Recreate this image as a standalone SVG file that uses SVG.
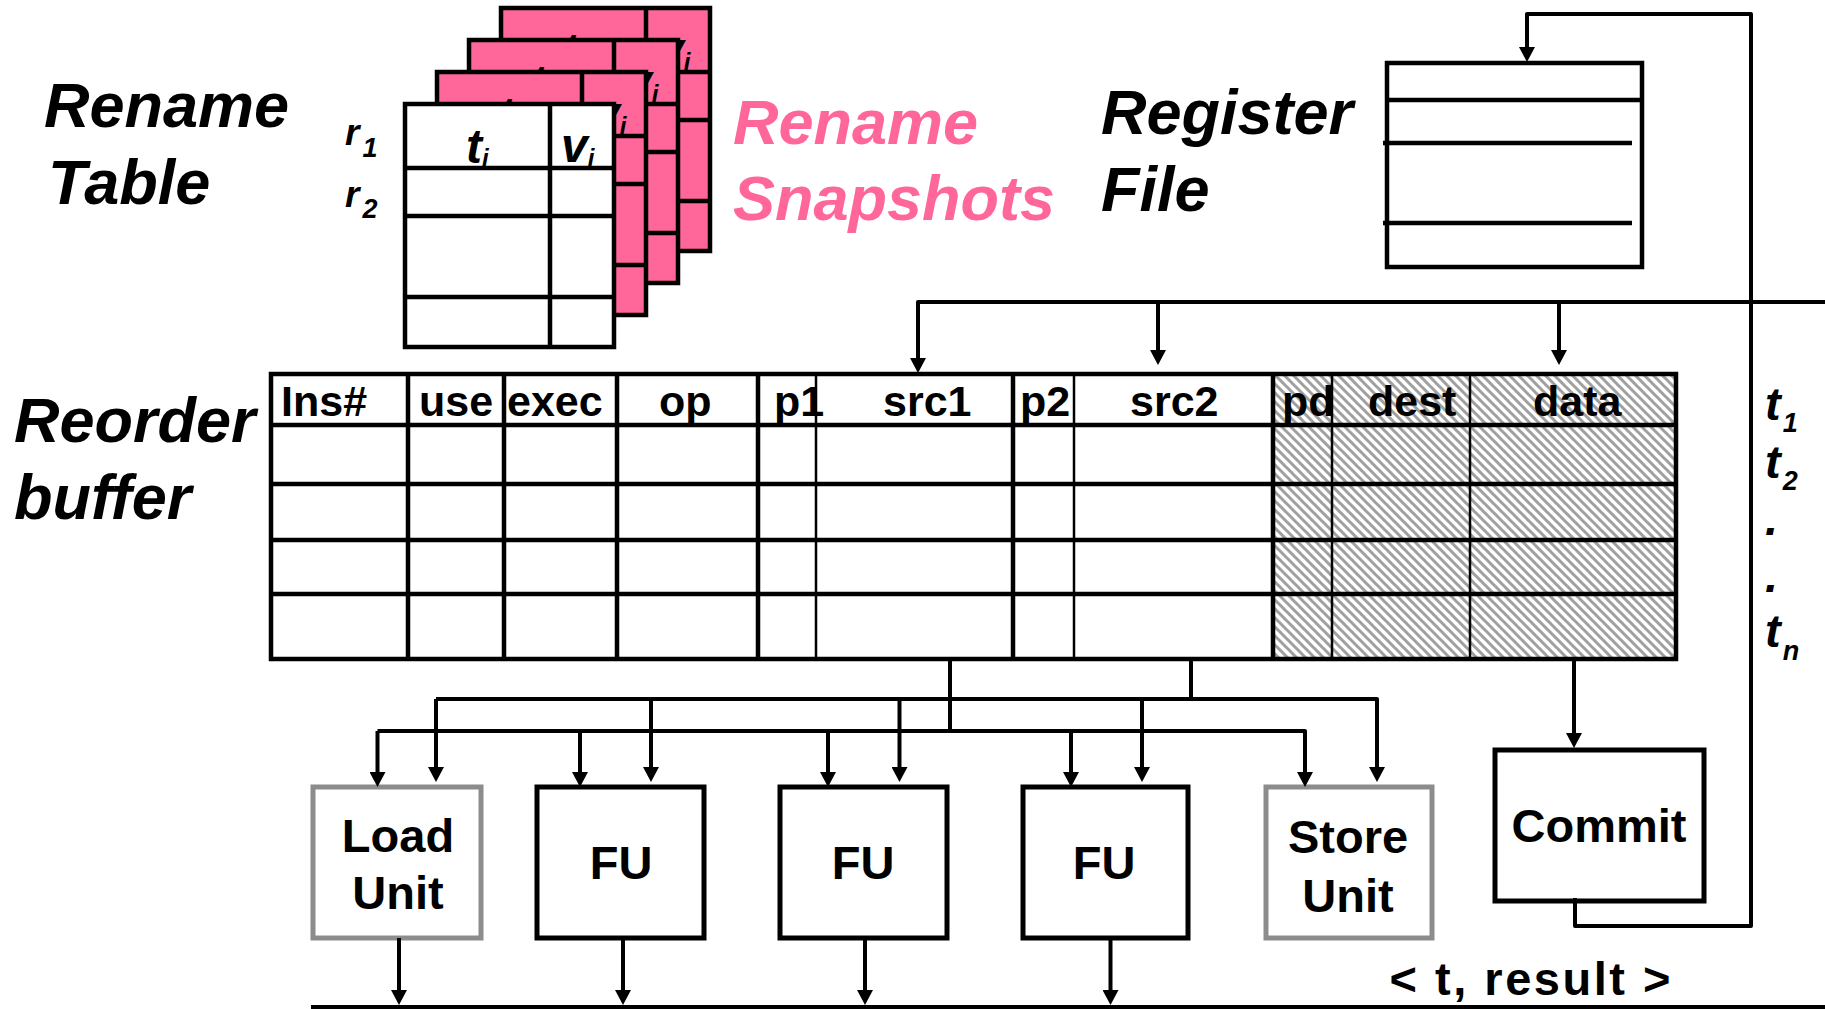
<svg xmlns="http://www.w3.org/2000/svg" width="1825" height="1009" viewBox="0 0 1825 1009">
  <style>
    .title { font-family: "Liberation Sans", Arial, sans-serif; font-weight: bold; font-style: italic; font-size: 63px; fill: #000; }
    .pink { fill: #FF6699; }
    .cell { font-family: "Liberation Sans", Arial, sans-serif; font-weight: bold; font-style: italic; fill: #000; }
    .hdr { font-family: "Liberation Sans", Arial, sans-serif; font-weight: bold; font-size: 43px; fill: #000; }
    .unit { font-family: "Liberation Sans", Arial, sans-serif; font-weight: bold; font-size: 47px; fill: #000; text-anchor: middle; }
    .box { fill: #fff; stroke: #000; stroke-width: 5; }
    .gbox { fill: #fff; stroke: #8c8c8c; stroke-width: 5; }
    .grid { stroke: #000; stroke-width: 4.5; fill: none; }
    .thin { stroke: #000; stroke-width: 2.5; fill: none; }
    .wire { stroke: #000; stroke-width: 4; fill: none; stroke-linejoin: round; }
    .arr { marker-end: url(#head); }
  </style>
  <defs>
    <marker id="head" viewBox="0 0 15 16" refX="7" refY="8" markerWidth="15" markerHeight="16" markerUnits="userSpaceOnUse" orient="auto">
      <path d="M0,0 L15,8 L0,16 z" fill="#000"/>
    </marker>
    <pattern id="hatch" width="9" height="9" patternUnits="userSpaceOnUse">
      <rect width="9" height="9" fill="#fff"/>
      <path d="M-2,-2 L11,11 M-2,7 L2,11 M7,-2 L11,2" stroke="#a0a0a0" stroke-width="3"/>
    </pattern>
    <!-- one rename table page: 209 x 243 -->
    <g id="page">
      <rect x="0" y="0" width="209" height="243" class="grid"/>
      <line x1="145" y1="0" x2="145" y2="243" class="grid"/>
      <line x1="0" y1="64" x2="209" y2="64" class="grid"/>
      <line x1="0" y1="112" x2="209" y2="112" class="grid"/>
      <line x1="0" y1="193" x2="209" y2="193" class="grid"/>
      <text class="cell" x="61" y="59" font-size="48">t<tspan font-size="24" dy="3">i</tspan></text>
      <text class="cell" x="156" y="58" font-size="48">v<tspan font-size="24" dy="4">i</tspan></text>
    </g>
  </defs>

  <rect width="1825" height="1009" fill="#fff"/>

  <!-- rename table labels -->
  <g id="rename-table-label">
    <text class="title" x="44" y="127">Rename</text>
    <text class="title" x="48" y="204">Table</text>
    <text class="cell" x="345" y="145" font-size="37">r<tspan font-size="27" dx="3" dy="12">1</tspan></text>
    <text class="cell" x="345" y="207" font-size="37">r<tspan font-size="27" dx="3" dy="11">2</tspan></text>
  </g>

  <!-- snapshot pages, back to front -->
  <g id="rename-snapshots">
    <g id="snapshot-3" transform="translate(501,8)">
      <rect width="209" height="243" fill="#FF6699"/>
      <use href="#page"/>
    </g>
    <g id="snapshot-2" transform="translate(469,40)">
      <rect width="209" height="243" fill="#FF6699"/>
      <use href="#page"/>
    </g>
    <g id="snapshot-1" transform="translate(437,72)">
      <rect width="209" height="243" fill="#FF6699"/>
      <use href="#page"/>
    </g>
  </g>

  <!-- live rename table on top -->
  <g id="rename-table" transform="translate(405,104)">
    <rect width="209" height="243" fill="#fff"/>
    <use href="#page"/>
  </g>

  <g id="snapshots-label">
    <text class="title pink" x="733" y="144">Rename</text>
    <text class="title pink" x="733" y="220">Snapshots</text>
  </g>

  <!-- register file -->
  <g id="register-file">
    <text class="title" x="1101" y="134">Register</text>
    <text class="title" x="1101" y="211">File</text>
    <rect x="1387" y="63" width="255" height="204" class="grid" fill="#fff"/>
    <line x1="1389" y1="100" x2="1642" y2="100" class="grid"/>
    <line x1="1383" y1="143" x2="1632" y2="143" class="grid"/>
    <line x1="1383" y1="223" x2="1632" y2="223" class="grid"/>
  </g>

  <!-- reorder buffer -->
  <g id="reorder-buffer">
    <text class="title" x="14" y="442">Reorder</text>
    <text class="title" x="14" y="519">buffer</text>
    <rect x="271" y="374" width="1405" height="285" fill="#fff"/>
    <rect x="1273" y="374" width="403" height="285" fill="url(#hatch)"/>
    <g class="grid">
      <line x1="271" y1="425" x2="1676" y2="425"/>
      <line x1="271" y1="484" x2="1676" y2="484"/>
      <line x1="271" y1="540" x2="1676" y2="540"/>
      <line x1="271" y1="594" x2="1676" y2="594"/>
      <line x1="408" y1="374" x2="408" y2="659"/>
      <line x1="504" y1="374" x2="504" y2="659"/>
      <line x1="617" y1="374" x2="617" y2="659"/>
      <line x1="758" y1="374" x2="758" y2="659"/>
      <line x1="1013" y1="374" x2="1013" y2="659"/>
      <line x1="1273" y1="374" x2="1273" y2="659"/>
      <rect x="271" y="374" width="1405" height="285"/>
    </g>
    <g class="thin">
      <line x1="816" y1="374" x2="816" y2="659"/>
      <line x1="1074" y1="374" x2="1074" y2="659"/>
      <line x1="1332" y1="374" x2="1332" y2="659"/>
      <line x1="1470" y1="374" x2="1470" y2="659"/>
    </g>
    <g class="hdr">
      <text x="281" y="416">Ins#</text>
      <text x="419" y="416">use</text>
      <text x="507" y="416">exec</text>
      <text x="659" y="416">op</text>
      <text x="774" y="416">p1</text>
      <text x="883" y="416">src1</text>
      <text x="1020" y="416">p2</text>
      <text x="1130" y="416">src2</text>
      <text x="1282" y="416">pd</text>
      <text x="1368" y="416">dest</text>
      <text x="1533" y="416">data</text>
    </g>
  </g>

  <!-- tag list beside the result bus -->
  <g id="tag-list">
    <text class="cell" x="1765" y="420" font-size="47">t<tspan font-size="27" dx="2" dy="12">1</tspan></text>
    <text class="cell" x="1765" y="478" font-size="47">t<tspan font-size="27" dx="2" dy="12">2</tspan></text>
    <text class="cell" x="1765" y="535" font-size="47">.</text>
    <text class="cell" x="1765" y="592" font-size="47">.</text>
    <text class="cell" x="1765" y="647" font-size="47">t<tspan font-size="27" dx="2" dy="13">n</tspan></text>
  </g>

  <!-- execution units -->
  <g id="load-unit">
    <rect x="313" y="787" width="168" height="151" class="gbox"/>
    <text class="unit" x="398" y="852">Load</text>
    <text class="unit" x="398" y="909">Unit</text>
  </g>
  <g id="fu-1">
    <rect x="537" y="787" width="167" height="151" class="box"/>
    <text class="unit" x="621" y="879">FU</text>
  </g>
  <g id="fu-2">
    <rect x="780" y="787" width="167" height="151" class="box"/>
    <text class="unit" x="863" y="879">FU</text>
  </g>
  <g id="fu-3">
    <rect x="1023" y="787" width="165" height="151" class="box"/>
    <text class="unit" x="1104" y="879">FU</text>
  </g>
  <g id="store-unit">
    <rect x="1266" y="787" width="166" height="151" class="gbox"/>
    <text class="unit" x="1348" y="853">Store</text>
    <text class="unit" x="1348" y="912">Unit</text>
  </g>
  <g id="commit">
    <rect x="1495" y="750" width="209" height="151" class="box"/>
    <text class="unit" x="1599" y="842">Commit</text>
  </g>

  <g id="result-label">
    <text class="unit" x="1530" y="995" font-size="50" textLength="281" lengthAdjust="spacing">&lt; t, result &gt;</text>
  </g>

  <!-- connectors -->
  <g id="connectors" class="wire">
    <!-- operand bus into the reorder buffer -->
    <path d="M1825,302 H918 V365" class="arr"/>
    <path d="M1158,302 V357" class="arr"/>
    <path d="M1559,302 V357" class="arr"/>
    <!-- commit path back to register file -->
    <path d="M1574,659 V740" class="arr"/>
    <path d="M1575,898 V926 H1751 V14 H1527 V54" class="arr"/>
    <!-- dispatch buses -->
    <path d="M950,659 V731"/>
    <path d="M1191,659 V699"/>
    <path d="M436,699 H1377 V774" class="arr"/>
    <path d="M436,699 V774" class="arr"/>
    <path d="M651,699 V774" class="arr"/>
    <path d="M899.5,699 V774" class="arr"/>
    <path d="M1142,699 V774" class="arr"/>
    <path d="M377.5,731 H1305 V779" class="arr"/>
    <path d="M377.5,731 V779" class="arr"/>
    <path d="M580,731 V779" class="arr"/>
    <path d="M828,731 V779" class="arr"/>
    <path d="M1071,731 V779" class="arr"/>
    <!-- results onto the writeback bus -->
    <path d="M399,938 V997" class="arr"/>
    <path d="M623,938 V997" class="arr"/>
    <path d="M865,938 V997" class="arr"/>
    <path d="M1110.5,938 V997" class="arr"/>
    <path d="M311,1007 H1825"/>
  </g>
</svg>
